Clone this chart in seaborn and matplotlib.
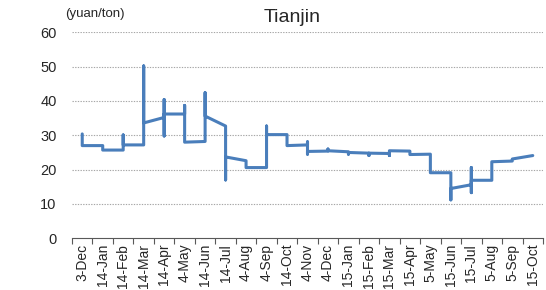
import numpy as np
import pandas as pd
import matplotlib
matplotlib.use('Agg')
import matplotlib.pyplot as plt
import seaborn as sns

# month labels on the category axis (as visible in the reference)
months = ['3-Dec', '14-Jan', '14-Feb', '14-Mar', '14-Apr', '4-May', '14-Jun',
          '14-Jul', '4-Aug', '4-Sep', '14-Oct', '4-Nov', '4-Dec', '15-Jan',
          '15-Feb', '15-Mar', '15-Apr', '5-May', '15-Jun', '15-Jul', '5-Aug',
          '5-Sep', '15-Oct']

# price readings drawn at each month, in the order they are joined (yuan/ton)
month_values = [
    [30.4, 27.0],
    [27.0, 25.7],
    [25.7, 30.1, 27.2],
    [27.2, 50.2, 33.6],
    [35.2, 40.4, 29.8, 36.2],
    [36.2, 38.7, 28.0],
    [28.2, 42.4, 35.6],
    [32.7, 17.0, 23.7],
    [22.6, 20.6],
    [20.6, 32.7, 30.2],
    [30.2, 27.0],
    [27.2, 28.1, 24.5, 25.3],
    [25.4, 26.0, 25.5],
    [25.2, 24.5, 25.0],
    [24.8, 24.1, 24.8],
    [24.7, 24.1, 25.5],
    [25.4, 24.4],
    [24.5, 19.1],
    [19.1, 11.2, 14.5],
    [15.6, 20.6, 13.3, 16.9],
    [16.9, 22.3],
    [22.5, 23.1],
    [24.1],
]

yticks = [0, 10, 20, 30, 40, 50, 60]

# flatten to a long table
rows = []
for i, vals in enumerate(month_values):
    for v in vals:
        rows.append({'month': i, 'price': v})
df = pd.DataFrame(rows)

sns.set_style('white')
plt.rcParams['font.family'] = ['Liberation Sans', 'DejaVu Sans']

fig = plt.figure(figsize=(5.46, 2.90), dpi=100)
ax = fig.add_axes([72 / 546, 1 - 238.3 / 290, (543 - 72) / 546, (238.3 - 32.3) / 290])

sns.lineplot(data=df, x='month', y='price', sort=False, estimator=None,
             color='#4A7EBB', linewidth=2.2, ax=ax)

ax.set_xlim(-0.5, len(months) - 0.5)
ax.set_ylim(0, 60)

# dotted gridlines
for yv in yticks[1:]:
    ax.axhline(yv, color='#A6A6A6', linestyle=(0, (1.2, 1.2)), linewidth=0.8, zorder=0)

ax.set_yticks(yticks)
ax.tick_params(axis='y', length=0, pad=11, labelsize=10.5)

# tick marks at month boundaries, labels at month centres
ax.set_xticks(np.arange(-0.5, len(months), 1.0))
ax.set_xticklabels([])
ax.tick_params(axis='x', which='major', length=4, width=0.8, color='#595959', direction='out', bottom=True)
ax.set_xticks(np.arange(len(months)), minor=True)
ax.set_xticklabels(months, minor=True, rotation=90, fontsize=10)
ax.tick_params(axis='x', which='minor', length=0, pad=4)

ax.set_xlabel('')
ax.set_ylabel('')
for side in ['left', 'top', 'right']:
    ax.spines[side].set_visible(False)
ax.spines['bottom'].set_color('#595959')
ax.spines['bottom'].set_linewidth(0.8)

fig.text(65 / 546, 1 - 13.5 / 290, '(yuan/ton)', ha='left', va='center', fontsize=9.5)
fig.text(292.5 / 546, 1 - 17.5 / 290, 'Tianjin', ha='center', va='center', fontsize=14)

fig.savefig('out.png', dpi=100)
